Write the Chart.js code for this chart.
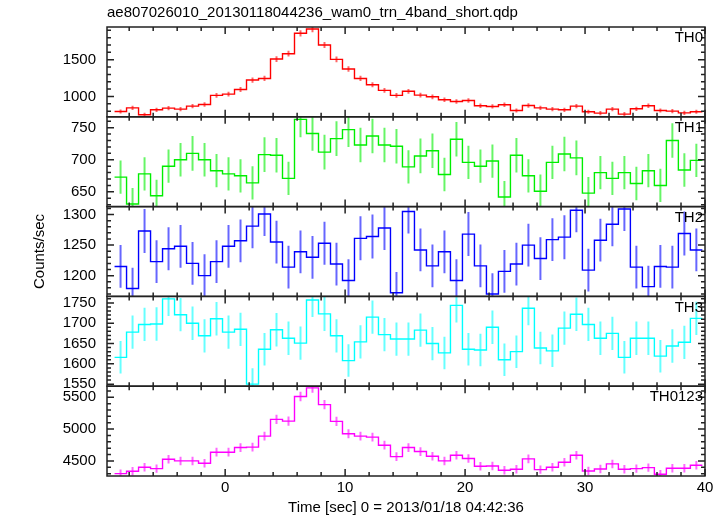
<!DOCTYPE html>
<html>
<head>
<meta charset="utf-8">
<script src="https://cdn.jsdelivr.net/npm/chart.js@4.4.1/dist/chart.umd.min.js"></script>
<style>
  html, body { margin: 0; padding: 0; background: #fff; }
</style>
</head>
<body>
<canvas id="lc" width="727" height="516"></canvas>
<script>
// 1 s bins, first bin starts a bit after the left edge of the plot
const binStart = -9.22;
const binWidth = 1;
const xMin = -9.85;
const xMax = 40;
const xTicks = [0, 10, 20, 30, 40];

const panelNames = ['TH0', 'TH1', 'TH2', 'TH3', 'TH0123'];
const panelColors = ['#ff0000', '#00ee00', '#0000ff', '#00ffff', '#ff00ff'];

const th0 = [795, 845, 750, 818, 841, 827, 868, 891, 1014, 1032, 1095, 1223, 1245, 1509, 1582, 1859, 1918, 1700, 1505, 1373, 1245, 1159, 1082, 1014,
  1070, 1018, 995, 955, 932, 945, 873, 864, 886, 809, 877, 845, 827, 818, 868, 791, 773, 827, 759, 832, 873, 809, 800, 777, 791];
const th0Err = [28, 29, 27, 29, 29, 29, 29, 30, 32, 32, 33, 35, 35, 39, 40, 43, 44, 41, 39, 37, 35, 34, 33, 32,
  33, 32, 32, 31, 31, 31, 30, 29, 30, 28, 30, 29, 29, 29, 29, 28, 28, 29, 28, 29, 30, 28, 28, 28, 28];

const th1 = [673, 631, 678, 644, 690, 700, 710, 700, 683, 678, 675, 664, 708, 707, 671, 763, 741, 712, 733, 747, 723, 737, 723, 721,
  689, 706, 714, 677, 732, 696, 690, 698, 642, 707, 675, 651, 696, 709, 703, 648, 680, 671, 680, 663, 683, 660, 730, 684, 699];
const th1Err = [26, 25, 26, 25, 26, 26, 27, 26, 26, 26, 26, 26, 27, 27, 26, 28, 27, 27, 27, 27, 27, 27, 27, 27,
  26, 27, 27, 26, 27, 26, 26, 26, 25, 27, 26, 26, 26, 27, 27, 25, 26, 26, 26, 26, 26, 26, 27, 26, 26];

const th2 = [1215, 1179, 1273, 1223, 1244, 1248, 1220, 1200, 1223, 1248, 1257, 1281, 1301, 1255, 1214, 1239, 1230, 1253, 1219, 1192, 1261, 1264, 1278, 1172,
  1305, 1242, 1216, 1239, 1192, 1268, 1216, 1170, 1207, 1219, 1250, 1228, 1259, 1263, 1307, 1209, 1258, 1284, 1309, 1214, 1182, 1215, 1214, 1269, 1242];
const th2Err = [35, 34, 36, 35, 35, 35, 35, 35, 35, 35, 35, 36, 36, 35, 35, 35, 35, 35, 35, 35, 36, 36, 36, 34,
  36, 35, 35, 35, 35, 36, 35, 34, 35, 35, 35, 35, 35, 36, 36, 35, 35, 36, 36, 35, 34, 35, 35, 36, 35];

const th3 = [1616, 1678, 1697, 1698, 1760, 1721, 1700, 1669, 1711, 1678, 1685, 1550, 1636, 1684, 1663, 1651, 1757, 1723, 1669, 1608, 1654, 1715, 1672, 1661,
  1661, 1683, 1650, 1627, 1744, 1636, 1634, 1690, 1610, 1630, 1737, 1639, 1632, 1688, 1722, 1697, 1663, 1675, 1616, 1663, 1663, 1619, 1644, 1653, 1712];
const th3Err = [40, 41, 41, 41, 42, 41, 41, 41, 41, 41, 41, 39, 40, 41, 41, 41, 42, 42, 41, 40, 41, 41, 41, 41,
  41, 41, 41, 40, 42, 40, 40, 41, 40, 40, 42, 40, 40, 41, 41, 41, 41, 41, 40, 41, 41, 40, 41, 41, 41];

const th0123 = [4300, 4337, 4400, 4379, 4526, 4500, 4500, 4463, 4637, 4637, 4710, 4716, 4890, 5153, 5126, 5511, 5647, 5384, 5121, 4926, 4890, 4874, 4747, 4568,
  4710, 4647, 4574, 4500, 4589, 4537, 4416, 4421, 4353, 4368, 4532, 4363, 4400, 4479, 4589, 4342, 4374, 4453, 4368, 4379, 4395, 4290, 4384, 4384, 4432];
const th0123Err = [66, 66, 66, 66, 67, 67, 67, 67, 68, 68, 69, 69, 70, 72, 72, 74, 75, 73, 72, 70, 70, 70, 69, 68,
  69, 68, 68, 67, 68, 67, 66, 66, 66, 66, 67, 66, 66, 67, 68, 66, 66, 67, 66, 66, 66, 66, 66, 66, 67];

// axis ranges and tick marks of each panel
const yMins = [723, 627, 1166, 1545, 4263];
const yMaxs = [1945, 767, 1313, 1766, 5674];
const th0Ticks = [1000, 1500];
const th1Ticks = [650, 700, 750];
const th2Ticks = [1200, 1250, 1300];
const th3Ticks = [1550, 1600, 1650, 1700, 1750];
const th0123Ticks = [4500, 5000, 5500];
const minorSteps = [100, 10, 10, 10, 100];

const values = [th0, th1, th2, th3, th0123];
const errors = [th0Err, th1Err, th2Err, th3Err, th0123Err];
const majorTicks = [th0Ticks, th1Ticks, th2Ticks, th3Ticks, th0123Ticks];

const FONT = "'Liberation Sans', Arial, Helvetica, sans-serif";

function stepPoints(vals) {
  const pts = vals.map((v, i) => ({ x: binStart + i * binWidth, y: v }));
  pts.push({ x: binStart + vals.length * binWidth, y: vals[vals.length - 1] });
  return pts;
}

const datasets = values.map((vals, p) => ({
  label: panelNames[p],
  data: stepPoints(vals),
  yAxisID: 'y' + p,
  borderColor: panelColors[p],
  borderWidth: 1.4,
  stepped: 'before',
  pointRadius: 0,
  fill: false
}));

const scales = {
  x: {
    type: 'linear', min: xMin, max: xMax,
    afterBuildTicks: s => { s.ticks = xTicks.map(v => ({ value: v })); },
    afterFit: s => { s.height = 40; },
    grid: { drawOnChartArea: false, drawTicks: false },
    border: { display: false },
    ticks: { color: '#000', font: { family: FONT, size: 15 }, padding: 3, maxRotation: 0, autoSkip: false,
      callback: v => String(v) },
    title: { display: true, text: 'Time [sec] 0 = 2013/01/18 04:42:36', color: '#000',
      font: { family: FONT, size: 15 }, padding: { top: 0, bottom: -1 } }
  }
};
// stacked left axes are laid out last-defined on top, so add them bottom panel first
for (let p = values.length - 1; p >= 0; p--) {
  scales['y' + p] = {
    type: 'linear', position: 'left', stack: 'panels', stackWeight: 1,
    min: yMins[p], max: yMaxs[p],
    afterBuildTicks: s => { s.ticks = majorTicks[p].map(v => ({ value: v })); },
    afterFit: s => { s.width = 107; },
    grid: { drawOnChartArea: false, drawTicks: false },
    border: { display: false },
    ticks: { color: '#000', font: { family: FONT, size: 15 }, padding: 11, autoSkip: false,
      callback: v => String(v) }
  };
}

// error bars, frames with inward ticks, and the extra texts
const qdpPlugin = {
  id: 'qdp',
  afterDatasetsDraw(chart) {
    const ctx = chart.ctx;
    const xs = chart.scales.x;
    const area = chart.chartArea;
    values.forEach((vals, p) => {
      const ys = chart.scales['y' + p];
      ctx.save();
      ctx.beginPath();
      ctx.rect(area.left, ys.top, area.right - area.left, ys.bottom - ys.top);
      ctx.clip();
      ctx.strokeStyle = panelColors[p];
      ctx.globalAlpha = 0.6;
      ctx.lineWidth = 2;
      vals.forEach((v, i) => {
        const x = xs.getPixelForValue(binStart + (i + 0.5) * binWidth);
        ctx.beginPath();
        ctx.moveTo(x, ys.getPixelForValue(v - errors[p][i]));
        ctx.lineTo(x, ys.getPixelForValue(v + errors[p][i]));
        ctx.stroke();
      });
      ctx.restore();
    });
  },
  afterDraw(chart) {
    const ctx = chart.ctx;
    const xs = chart.scales.x;
    const area = chart.chartArea;
    ctx.save();
    ctx.strokeStyle = '#222';
    ctx.lineWidth = 1.5;
    values.forEach((vals, p) => {
      const ys = chart.scales['y' + p];
      const top = ys.top, bot = ys.bottom;
      ctx.strokeRect(area.left, top, area.right - area.left, bot - top);
      ctx.beginPath();
      for (let t = -8; t <= 40; t += 2) {
        const x = xs.getPixelForValue(t);
        const len = t % 10 === 0 ? 7 : 4;
        ctx.moveTo(x, bot); ctx.lineTo(x, bot - len);
        ctx.moveTo(x, top); ctx.lineTo(x, top + len);
      }
      const step = minorSteps[p];
      for (let v = Math.ceil(yMins[p] / step) * step; v <= yMaxs[p]; v += step) {
        const y = ys.getPixelForValue(v);
        const len = majorTicks[p].includes(v) ? 7 : 4;
        ctx.moveTo(area.left, y); ctx.lineTo(area.left + len, y);
        ctx.moveTo(area.right, y); ctx.lineTo(area.right - len, y);
      }
      ctx.stroke();

      ctx.fillStyle = '#000';
      ctx.font = '15px ' + FONT;
      ctx.textAlign = 'right';
      ctx.textBaseline = 'middle';
      ctx.fillText(panelNames[p], area.right - 2, top + 11);
    });

    ctx.fillStyle = '#000';
    ctx.font = '15px ' + FONT;
    ctx.textAlign = 'left';
    ctx.textBaseline = 'middle';
    ctx.fillText('ae807026010_20130118044236_wam0_trn_4band_short.qdp', area.left, 13);

    ctx.translate(40, (area.top + area.bottom) / 2);
    ctx.rotate(-Math.PI / 2);
    ctx.textAlign = 'center';
    ctx.fillText('Counts/sec', 0, 0);
    ctx.restore();
  }
};

const lc = new Chart(document.getElementById('lc'), {
  type: 'line',
  data: { datasets: datasets },
  options: {
    responsive: false,
    animation: false,
    layout: { padding: { top: 27, right: 22, bottom: 0, left: 0 } },
    plugins: { legend: { display: false }, tooltip: { enabled: false } },
    scales: scales
  },
  plugins: [qdpPlugin]
});
</script>
</body>
</html>
